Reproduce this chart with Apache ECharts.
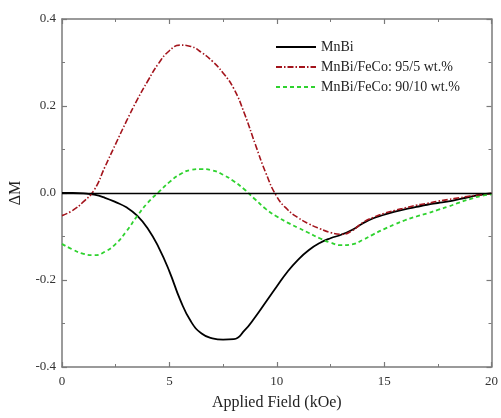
<!DOCTYPE html>
<html>
<head>
<meta charset="utf-8">
<script src="https://cdn.jsdelivr.net/npm/echarts@6/dist/echarts.min.js"></script>
<style>html,body{margin:0;padding:0;background:#fff}#c{width:501px;height:418px}</style>
</head>
<body>
<div id="c"></div>
<script>
var fieldX = [0,0.5,1,1.5,2,2.5,3,3.5,4,4.5,5,5.5,6,6.5,7,7.5,8,8.5,9,9.5,10,10.5,11,11.5,12,12.5,13,13.5,14,14.5,15,15.5,16,16.5,17,17.5,18,18.5,19,19.5,20];
var mnbi = [0,0,-0.001,-0.004,-0.011,-0.021,-0.033,-0.052,-0.082,-0.125,-0.18,-0.245,-0.295,-0.323,-0.334,-0.337,-0.336,-0.316,-0.285,-0.25,-0.215,-0.181,-0.153,-0.131,-0.115,-0.104,-0.096,-0.085,-0.07,-0.058,-0.05,-0.043,-0.037,-0.032,-0.027,-0.023,-0.019,-0.014,-0.009,-0.004,-0.001];
var feco5 = [-0.052,-0.04,-0.02,0.007,0.06,0.113,0.165,0.214,0.258,0.298,0.327,0.34,0.337,0.323,0.303,0.276,0.24,0.182,0.112,0.045,-0.008,-0.038,-0.057,-0.071,-0.082,-0.091,-0.095,-0.087,-0.068,-0.056,-0.047,-0.04,-0.034,-0.028,-0.024,-0.019,-0.015,-0.011,-0.007,-0.004,-0.001];
var feco10 = [-0.117,-0.13,-0.14,-0.143,-0.135,-0.117,-0.088,-0.053,-0.022,0.002,0.025,0.043,0.053,0.055,0.052,0.042,0.027,0.008,-0.015,-0.037,-0.054,-0.068,-0.08,-0.092,-0.104,-0.114,-0.12,-0.118,-0.108,-0.095,-0.083,-0.072,-0.062,-0.054,-0.047,-0.039,-0.031,-0.022,-0.014,-0.007,-0.003];
var seriesNames = ['MnBi','MnBi/FeCo: 95/5 wt.%','MnBi/FeCo: 90/10 wt.%'];
var xTitle = 'Applied Field (kOe)';
var yTitle = '\u0394M';

function pairs(xs, ys){ return xs.map(function(x,i){ return [x, ys[i]]; }); }

var font = 'Liberation Serif';
var axisGray = '#7a7a7a';
var chart = echarts.init(document.getElementById('c'));
var baseX = {
  type:'value', min:0, max:20, interval:5,
  axisLine:{show:true, onZero:false, lineStyle:{color:axisGray, width:1.5}},
  axisTick:{show:true, inside:true, length:5, lineStyle:{color:axisGray, width:1.2}},
  minorTick:{show:true, splitNumber:2, length:3, lineStyle:{color:axisGray, width:1}},
  splitLine:{show:false}
};
var baseY = {
  type:'value', min:-0.4, max:0.4, interval:0.2,
  axisLine:{show:true, onZero:false, lineStyle:{color:axisGray, width:1.5}},
  axisTick:{show:true, inside:true, length:5, lineStyle:{color:axisGray, width:1.2}},
  minorTick:{show:true, splitNumber:2, length:3, lineStyle:{color:axisGray, width:1}},
  splitLine:{show:false}
};
chart.setOption({
  animation:false,
  backgroundColor:'#fff',
  textStyle:{fontFamily:font},
  grid:{left:62, right:8, top:19, bottom:51, containLabel:false},
  legend:{
    orient:'vertical', left:270, top:35, itemWidth:40, itemHeight:10, itemGap:6,
    itemStyle:{opacity:0},
    textStyle:{fontFamily:font, fontSize:14, color:'#222'},
    data:seriesNames
  },
  xAxis:[
    Object.assign({}, baseX, {
      position:'bottom',
      name:xTitle, nameLocation:'middle', nameGap:28,
      nameTextStyle:{fontFamily:font, fontSize:16, color:'#222'},
      axisLabel:{fontFamily:font, fontSize:13, color:'#333', margin:8}
    }),
    Object.assign({}, baseX, {position:'top', axisLabel:{show:false}})
  ],
  yAxis:[
    Object.assign({}, baseY, {
      position:'left',
      name:yTitle, nameLocation:'middle', nameGap:38,
      nameTextStyle:{fontFamily:font, fontSize:16, color:'#222'},
      axisLabel:{fontFamily:font, fontSize:13, color:'#333', margin:6,
        formatter:function(v){ return v.toFixed(1); }}
    }),
    Object.assign({}, baseY, {position:'right', axisLabel:{show:false}})
  ],
  series:[
    {
      name:seriesNames[0], type:'line', smooth:0.5, symbol:'none',
      data:pairs(fieldX, mnbi),
      lineStyle:{color:'#000', width:1.8},
      itemStyle:{color:'#000'},
      markLine:{silent:true, symbol:'none', label:{show:false},
        lineStyle:{color:'#000', width:1.3, type:'solid'},
        data:[{yAxis:0}]}
    },
    {
      name:seriesNames[1], type:'line', smooth:0.5, symbol:'none',
      data:pairs(fieldX, feco5),
      lineStyle:{color:'#a3141c', width:1.6, type:[6,2,1.5,2]},
      itemStyle:{color:'#a3141c'}
    },
    {
      name:seriesNames[2], type:'line', smooth:0.5, symbol:'none',
      data:pairs(fieldX, feco10),
      lineStyle:{color:'#2fd22f', width:1.8, type:[4,3]},
      itemStyle:{color:'#2fd22f'}
    }
  ]
});
</script>
</body>
</html>
